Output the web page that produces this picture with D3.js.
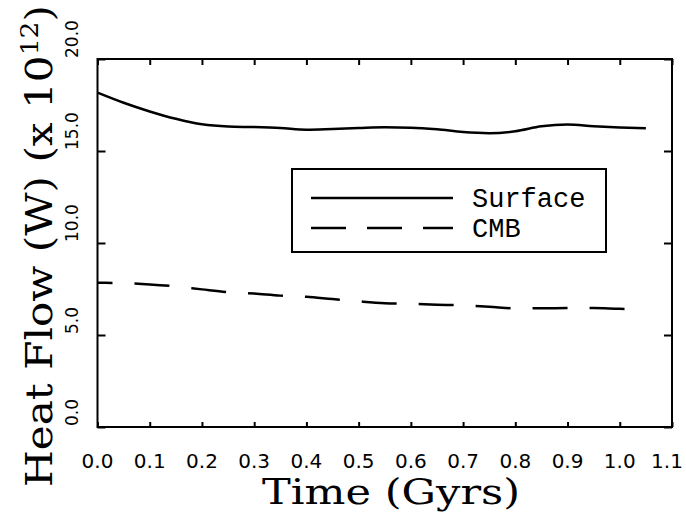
<!DOCTYPE html>
<html lang="en">
    <head>
        <meta charset="utf-8" />
        <title>Heat Flow</title>
        <script type="text/javascript" src="https://cdn.jsdelivr.net/npm/d3@7"></script>
        <style type="text/css">
            body { margin: 0; background: #fff; }
            svg { display: block; }
        </style>
    </head>
    <body>
        <script type="text/javascript">
            // values (time in Gyrs, heat flow in 1e12 W)
            var time = [0.0, 0.05, 0.1, 0.15, 0.2, 0.25, 0.3, 0.35, 0.4, 0.45, 0.5,
                        0.55, 0.6, 0.65, 0.7, 0.75, 0.8, 0.85, 0.9, 0.95, 1.0, 1.05];
            var surface = [18.17, 17.62, 17.15, 16.75, 16.45, 16.33, 16.3, 16.25, 16.16, 16.2, 16.25,
                           16.29, 16.27, 16.18, 16.03, 15.97, 16.07, 16.34, 16.44, 16.35, 16.28, 16.23];
            var cmb = [7.84, 7.82, 7.75, 7.64, 7.48, 7.33, 7.25, 7.14, 7.08, 6.95, 6.83,
                       6.73, 6.69, 6.65, 6.61, 6.54, 6.45, 6.45, 6.47, 6.47, 6.42, 6.4];
            var xTicks = [0, 0.1, 0.2, 0.3, 0.4, 0.5, 0.6, 0.7, 0.8, 0.9, 1.0, 1.1];
            var yTicks = [0, 5, 10, 15, 20];
            var seriesNames = ["Surface", "CMB"];

            var w = 686;
            var h = 515;
            // plot frame edges
            var plotL = 97.5, plotR = 672, plotT = 59, plotB = 427;

            var xScale = d3.scaleLinear().domain([0, 1.1]).range([plotL, plotR]);
            var yScale = d3.scaleLinear().domain([0, 20]).range([plotB, plotT]);

            var svg = d3.select("body")
                .append("svg")
                .attr("width", w)
                .attr("height", h);

            // ticks, pointing inward on all four sides
            function tidy(g) {
                g.select(".domain").remove();
                g.selectAll("line").attr("stroke", "#000").attr("stroke-width", 2);
            }
            svg.append("g")
                .attr("transform", "translate(0," + plotB + ")")
                .call(d3.axisBottom(xScale).tickValues(xTicks).tickSize(-5).tickFormat(""))
                .call(tidy);
            svg.append("g")
                .attr("transform", "translate(0," + plotT + ")")
                .call(d3.axisTop(xScale).tickValues(xTicks).tickSize(-6).tickFormat(""))
                .call(tidy);
            svg.append("g")
                .attr("transform", "translate(" + plotL + ",0)")
                .call(d3.axisLeft(yScale).tickValues(yTicks).tickSize(-8).tickFormat(""))
                .call(tidy);
            svg.append("g")
                .attr("transform", "translate(" + plotR + ",0)")
                .call(d3.axisRight(yScale).tickValues(yTicks).tickSize(-8).tickFormat(""))
                .call(tidy);

            // frame
            svg.append("rect")
                .attr("x", plotL)
                .attr("y", plotT)
                .attr("width", plotR - plotL)
                .attr("height", plotB - plotT)
                .attr("fill", "none")
                .attr("stroke", "#000")
                .attr("stroke-width", 2);

            // tick labels (last one nudged so it stays inside the page)
            svg.selectAll("text.xlab")
                .data(xTicks)
                .enter()
                .append("text")
                .attr("class", "xlab")
                .attr("x", function(d) { return Math.min(xScale(d), w - 19); })
                .attr("y", 468)
                .attr("text-anchor", "middle")
                .attr("font-family", "DejaVu Sans, sans-serif")
                .attr("font-size", "20px")
                .text(function(d) { return d.toFixed(1); });

            svg.selectAll("text.ylab")
                .data(yTicks)
                .enter()
                .append("text")
                .attr("class", "ylab")
                .attr("transform", function(d) {
                    return "translate(78," + (yScale(d) - 1) + ") rotate(-90)";
                })
                .attr("text-anchor", "start")
                .attr("font-family", "DejaVu Sans, sans-serif")
                .attr("font-size", "17px")
                .text(function(d) { return d.toFixed(1); });

            // axis titles
            svg.append("text")
                .attr("x", 391)
                .attr("y", 504)
                .attr("text-anchor", "middle")
                .attr("font-family", "DejaVu Serif, serif")
                .attr("font-size", "36px")
                .attr("textLength", 258)
                .attr("lengthAdjust", "spacingAndGlyphs")
                .text("Time (Gyrs)");

            var yTitle = svg.append("text")
                .attr("transform", "translate(52,487) rotate(-90)")
                .attr("text-anchor", "start")
                .attr("font-family", "DejaVu Serif, serif")
                .attr("font-size", "38px")
                .attr("textLength", 482)
                .attr("lengthAdjust", "spacingAndGlyphs");
            yTitle.append("tspan").text("Heat Flow (W) (x 10");
            yTitle.append("tspan").attr("dy", -14).attr("font-size", "24px").text("12");
            yTitle.append("tspan").attr("dy", 14).text(")");

            // data lines
            var line = d3.line()
                .x(function(d) { return xScale(d[0]); })
                .y(function(d) { return yScale(d[1]); })
                .curve(d3.curveMonotoneX);

            svg.append("path")
                .datum(d3.zip(time, surface))
                .attr("d", line)
                .attr("fill", "none")
                .attr("stroke", "#000")
                .attr("stroke-width", 2.5);

            svg.append("path")
                .datum(d3.zip(time, cmb))
                .attr("d", line)
                .attr("fill", "none")
                .attr("stroke", "#000")
                .attr("stroke-width", 2.5)
                .attr("stroke-dasharray", "35,22")
                .attr("stroke-dashoffset", 20);

            // legend
            var legend = svg.append("g");
            legend.append("rect")
                .attr("x", 292)
                .attr("y", 169)
                .attr("width", 314)
                .attr("height", 83)
                .attr("fill", "#fff")
                .attr("stroke", "#000")
                .attr("stroke-width", 2);

            var rowY = [198, 228];
            var dashes = [null, "35,21"];
            legend.selectAll("line.key")
                .data(seriesNames)
                .enter()
                .append("line")
                .attr("class", "key")
                .attr("x1", 311)
                .attr("x2", 453)
                .attr("y1", function(d, i) { return rowY[i]; })
                .attr("y2", function(d, i) { return rowY[i]; })
                .attr("stroke", "#000")
                .attr("stroke-width", 2.5)
                .attr("stroke-dasharray", function(d, i) { return dashes[i]; });

            legend.selectAll("text.key")
                .data(seriesNames)
                .enter()
                .append("text")
                .attr("class", "key")
                .attr("x", 472)
                .attr("y", function(d, i) { return rowY[i] + 9; })
                .attr("font-family", "Liberation Mono, monospace")
                .attr("font-size", "27px")
                .text(function(d) { return d; });
        </script>
    </body>
</html>
